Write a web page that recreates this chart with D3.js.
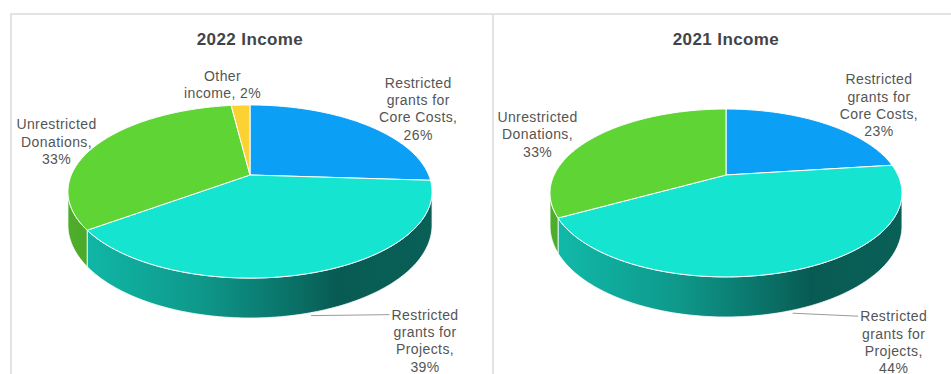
<!DOCTYPE html>
<html>
<head>
<meta charset="utf-8">
<script src="https://cdn.jsdelivr.net/npm/d3@7"></script>
<style>
  body { margin: 0; background: #fff; }
  svg { display: block; }
  text { font-family: "Liberation Sans", Arial, sans-serif; }
</style>
</head>
<body>
<svg id="chart" width="951" height="374"></svg>
<script>
var titles = ["2022 Income", "2021 Income"];
var categories2022 = ["Restricted grants for Core Costs", "Restricted grants for Projects", "Unrestricted Donations", "Other income"];
var values2022 = [26, 39, 33, 2];
var categories2021 = ["Restricted grants for Core Costs", "Restricted grants for Projects", "Unrestricted Donations"];
var values2021 = [23, 44, 33];
var colors = ["#0b9ff6", "#15e4d0", "#5fd435", "#fcd232"];

var svg = d3.select("#chart");
var defs = svg.append("defs");

// panel frame
var frame = svg.append("g").attr("stroke", "#e3e3e3").attr("stroke-width", 2);
frame.append("line").attr("x1", 10).attr("x2", 951).attr("y1", 14).attr("y2", 14);
frame.append("line").attr("x1", 11).attr("x2", 11).attr("y1", 13).attr("y2", 374);
frame.append("line").attr("x1", 493).attr("x2", 493).attr("y1", 13).attr("y2", 374);

// tilted pie: a/c are the half axes, b the perspective, t the thickness
var pies = [
  {title: titles[0], cats: categories2022, vals: values2022, cx: 250, cy: 175, a: 178.7, b: 0.191, c: 83.4, t: 32.3,
   nudge: [[53, -37], [114, 7], [-41, -15], [-18, -24]], leader: [false, true, false, false]},
  {title: titles[1], cats: categories2021, vals: values2021, cx: 726, cy: 175, a: 171.9, b: 0.214, c: 80.1, t: 31.5,
   nudge: [[55, -39], [101, 11], [-55, -16.5]], leader: [false, true, false]}
];

function proj(p, ang, z) {
  var u = Math.sin(ang), v = -Math.cos(ang);
  var w = 1 - p.b * v;
  return [p.cx + p.a * u / w, p.cy + (p.c * v + p.t * z) / w];
}

function arcPoints(p, a0, a1, z) {
  var n = Math.max(2, Math.ceil((a1 - a0) / (Math.PI / 180)));
  var pts = [];
  for (var k = 0; k <= n; k++) pts.push(proj(p, a0 + (a1 - a0) * k / n, z));
  return pts;
}

function shade(col, m) {
  var c = d3.rgb(col);
  return d3.rgb(c.r * m, c.g * m, c.b * m).formatHex();
}

var line = d3.line();

function wrap(str, maxW) {
  var tmp = svg.append("text").attr("font-size", 14).attr("letter-spacing", 0.4);
  var words = str.split(" "), lines = [], cur = "";
  words.forEach(function(wd) {
    var test = cur ? cur + " " + wd : wd;
    tmp.text(test);
    if (cur && tmp.node().getComputedTextLength() > maxW) { lines.push(cur); cur = wd; }
    else cur = test;
  });
  lines.push(cur);
  tmp.remove();
  return lines;
}

pies.forEach(function(p, pi) {
  var g = svg.append("g");
  var arcs = d3.pie().sort(null).value(function(d) { return d; })(p.vals);
  var ext = p.a / Math.sqrt(1 - p.b * p.b);
  var th1 = Math.acos(-p.b), th2 = 2 * Math.PI - th1;

  g.append("text")
    .attr("x", p.cx).attr("y", 45)
    .attr("text-anchor", "middle")
    .attr("font-size", 17).attr("font-weight", "bold")
    .attr("letter-spacing", 0.4)
    .attr("fill", "#444")
    .text(p.title);

  // side walls
  arcs.forEach(function(d, i) {
    var s = Math.max(d.startAngle, th1), e = Math.min(d.endAngle, th2);
    if (s >= e) return;
    var gid = "side" + pi + "_" + i;
    var grad = defs.append("linearGradient").attr("id", gid)
      .attr("gradientUnits", "userSpaceOnUse")
      .attr("x1", p.cx - ext).attr("x2", p.cx + ext).attr("y1", 0).attr("y2", 0);
    [[0, 0.82], [0.36, 0.67], [0.64, 0.48], [0.74, 0.4], [1, 0.42]].forEach(function(st) {
      grad.append("stop").attr("offset", st[0]).attr("stop-color", shade(colors[i], st[1]));
    });
    var pts = arcPoints(p, s, e, 0).concat(arcPoints(p, s, e, 1).reverse());
    g.append("path")
      .attr("d", line(pts) + "Z")
      .attr("fill", "url(#" + gid + ")")
      .attr("stroke", "#fff").attr("stroke-width", 0.8);
  });

  // top face
  arcs.forEach(function(d, i) {
    var pts = [[p.cx, p.cy]].concat(arcPoints(p, d.startAngle, d.endAngle, 0));
    g.append("path")
      .attr("d", line(pts) + "Z")
      .attr("fill", colors[i])
      .attr("stroke", "#fff").attr("stroke-width", 1);
  });

  // labels
  arcs.forEach(function(d, i) {
    var mid = (d.startAngle + d.endAngle) / 2;
    var anchor = proj(p, mid, p.leader[i] ? 1 : 0);
    var lx = anchor[0] + p.nudge[i][0], ly = anchor[1] + p.nudge[i][1];
    var lines = wrap(p.cats[i] + ", " + p.vals[i] + "%", 82);
    var txt = g.append("text")
      .attr("text-anchor", "middle")
      .attr("font-size", 14).attr("letter-spacing", 0.4)
      .attr("fill", "#555");
    lines.forEach(function(l, k) {
      txt.append("tspan").attr("x", lx).attr("y", ly + k * 17.4).text(l);
    });
    if (p.leader[i]) {
      var first = txt.select("tspan").node().getComputedTextLength();
      g.append("line")
        .attr("x1", anchor[0]).attr("y1", anchor[1] + 3)
        .attr("x2", lx - first / 2 - 2).attr("y2", ly - 5)
        .attr("stroke", "#9a9a9a").attr("stroke-width", 1);
    }
  });
});
</script>
</body>
</html>
